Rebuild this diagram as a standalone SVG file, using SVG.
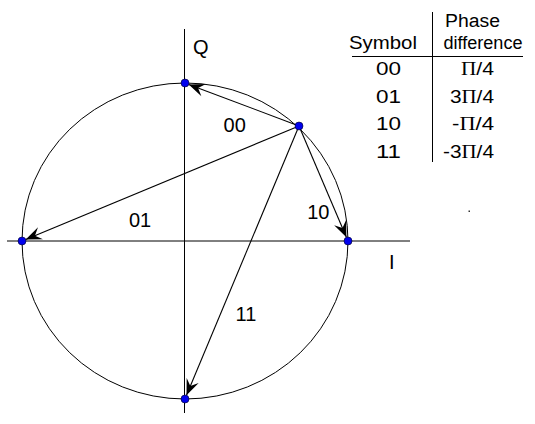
<svg xmlns="http://www.w3.org/2000/svg" width="535" height="424" viewBox="0 0 535 424">
<defs>
<style>
.ln{stroke:#000;stroke-width:1;fill:none}
.ax{stroke:#000;stroke-width:1;fill:none}
.arr{stroke:#000;stroke-width:1.1;fill:none;marker-end:url(#ah)}
.pt{fill:#0000ee;stroke:#000022;stroke-width:0.6}
.lb{font-family:"Liberation Sans",Arial,sans-serif;font-size:20px;fill:#000}
.tb{font-family:"Liberation Sans",Arial,sans-serif;font-size:18px;fill:#000}
.pi{font-family:"Liberation Serif","Times New Roman",serif}
</style>
<marker id="ah" markerUnits="userSpaceOnUse" markerWidth="20" markerHeight="16" viewBox="-17 -8 19 16" refX="0" refY="0" orient="auto">
<path d="M0,0 L-16,-6.5 L-10,0 L-16,6.5 Z" fill="#000"/>
</marker>
</defs>
<g id="circle">
<ellipse class="ln" cx="185" cy="241" rx="163" ry="158"/>
</g>
<g id="axes">
<line class="ax" x1="184.5" y1="29" x2="184.5" y2="413"/>
<line class="ax" x1="7" y1="241" x2="410" y2="241" stroke="#444"/>
<text class="lb" x="193" y="54">Q</text>
<text class="lb" x="389" y="269">I</text>
</g>
<g id="connectors">
<line class="arr" x1="299" y1="126" x2="188.7" y2="84.4"/>
<line class="arr" x1="299" y1="126" x2="25.7" y2="239.5"/>
<line class="arr" x1="299" y1="126" x2="346.4" y2="237.3"/>
<line class="arr" x1="299" y1="126" x2="186.5" y2="395.3"/>
</g>
<g id="labels">
<text class="lb" x="234.7" y="131.5" text-anchor="middle">00</text>
<text class="lb" x="140" y="226.5" text-anchor="middle">01</text>
<text class="lb" x="318.3" y="219" text-anchor="middle">10</text>
<text class="lb" x="246" y="320.5" text-anchor="middle">11</text>
</g>
<g id="points">
<circle id="p-top" class="pt" cx="185" cy="83" r="4"/>
<circle id="p-left" class="pt" cx="22" cy="241" r="4"/>
<circle id="p-right" class="pt" cx="348" cy="241" r="4"/>
<circle id="p-bottom" class="pt" cx="185" cy="399" r="4"/>
<circle id="p-source" class="pt" cx="299" cy="126" r="4"/>
</g>
<g id="table">
<line class="ln" x1="432.5" y1="12" x2="432.5" y2="162"/>
<line class="ln" x1="352" y1="56.5" x2="523" y2="56.5"/>
<text class="tb" x="445" y="27" textLength="55" lengthAdjust="spacingAndGlyphs">Phase</text>
<text class="tb" x="443.5" y="49" textLength="79" lengthAdjust="spacingAndGlyphs">difference</text>
<text class="tb" x="349" y="49" textLength="68" lengthAdjust="spacingAndGlyphs">Symbol</text>
<text class="tb" x="376" y="75" textLength="25" lengthAdjust="spacingAndGlyphs">00</text>
<text class="tb" x="376" y="102.5" textLength="25" lengthAdjust="spacingAndGlyphs">01</text>
<text class="tb" x="376" y="130" textLength="25" lengthAdjust="spacingAndGlyphs">10</text>
<text class="tb" x="376" y="157.5" textLength="25" lengthAdjust="spacingAndGlyphs">11</text>
<text class="tb" x="461" y="75" textLength="33" lengthAdjust="spacingAndGlyphs"><tspan class="pi">Π</tspan>/4</text>
<text class="tb" x="450" y="102.5" textLength="44" lengthAdjust="spacingAndGlyphs">3<tspan class="pi">Π</tspan>/4</text>
<text class="tb" x="452" y="130" textLength="42" lengthAdjust="spacingAndGlyphs">-<tspan class="pi">Π</tspan>/4</text>
<text class="tb" x="443" y="157.5" textLength="51" lengthAdjust="spacingAndGlyphs">-3<tspan class="pi">Π</tspan>/4</text>
</g>
<rect x="468.5" y="210.5" width="1.5" height="1.5" fill="#333"/>
</svg>
